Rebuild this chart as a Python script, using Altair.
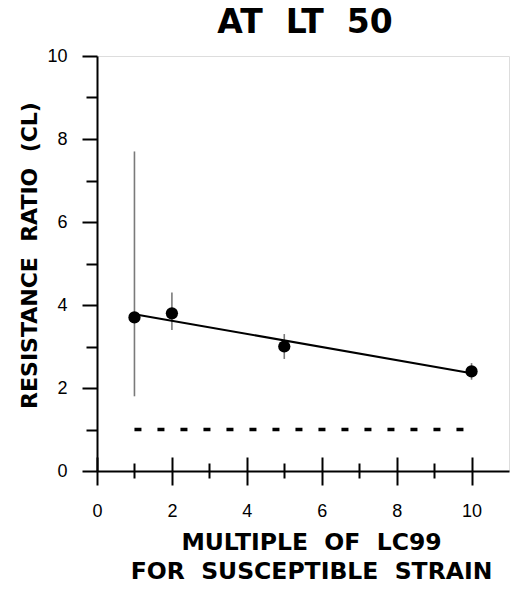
import altair as alt
import pandas as pd

# Resistance ratio at each multiple of the susceptible strain's LC99
multiple = [1, 2, 5, 10]
ratio = [3.7, 3.8, 3.0, 2.4]
ratio_lo = [1.8, 3.4, 2.7, 2.2]
ratio_hi = [7.7, 4.3, 3.3, 2.6]

# Reference level (ratio of 1) drawn as a dashed line
ref_ratio = [1.0, 1.0]
ref_multiple = [1.0, 9.8]

x_ticks = list(range(0, 11))
y_ticks = list(range(0, 11))

# wide word gaps in the headings (non-breaking so SVG keeps them)
GAP = "\u00a0\u00a0"
chart_title = GAP.join(["AT", "LT", "50"])
x_title = [GAP.join(["MULTIPLE", "OF", "LC99"]), GAP.join(["FOR", "SUSCEPTIBLE", "STRAIN"])]
y_title = GAP.join(["RESISTANCE", "RATIO", "(CL)"])

PLOT_W, PLOT_H = 412, 415

df = pd.DataFrame({"multiple": multiple, "ratio": ratio, "lo": ratio_lo, "hi": ratio_hi})
ref = pd.DataFrame({"x": [ref_multiple[0]], "x2": [ref_multiple[1]], "y": [ref_ratio[0]]})

x_scale = alt.Scale(domain=[0, 11], nice=False, zero=False)
y_scale = alt.Scale(domain=[0, 10], nice=False, zero=False)

even_only = "datum.value % 2 === 0 ? datum.label : ''"

x_axis = alt.Axis(
    values=x_ticks,
    labelExpr=even_only,
    tickSize={"condition": {"test": "datum.value % 2 === 0", "value": 14}, "value": 7},
    tickWidth=2, tickColor="black",
    domainColor="black", domainWidth=2,
    labelFont="Liberation Sans", labelFontSize=18, labelColor="black",
    labelPadding=17, labelBaseline="top", labelFlush=False,
    title=x_title,
    titleFont="DejaVu Sans", titleFontWeight="bold", titleFontSize=23.5,
    titleColor="black", titleLineHeight=29,
    titleX=214, titleY=78, titleAlign="center", titleBaseline="alphabetic",
    grid=False,
)

# upward half of the crossing ticks on the bottom axis
x_axis_up = alt.Axis(
    orient="top", offset=-PLOT_H,
    values=x_ticks,
    labels=False, domain=False, title=None, grid=False,
    tickSize={"condition": {"test": "datum.value % 2 === 0", "value": 14}, "value": 8},
    tickWidth=2, tickColor="black",
)

y_axis = alt.Axis(
    values=y_ticks,
    labelExpr=even_only,
    tickSize={"condition": {"test": "datum.value % 2 === 0", "value": 15}, "value": 11},
    tickWidth=2, tickColor="black",
    domainColor="black", domainWidth=2,
    labelFont="Liberation Sans", labelFontSize=18, labelColor="black",
    labelPadding=15, labelFlush=False,
    title=y_title,
    titleFont="DejaVu Sans", titleFontWeight="bold", titleFontSize=22,
    titleColor="black", titleAngle=270,
    titleX=-61, titleY=199, titleAlign="center", titleBaseline="alphabetic",
    grid=False,
)

base = alt.Chart(df)

errorbars = base.mark_rule(color="#7a7a7a", strokeWidth=1.6).encode(
    x=alt.X("multiple:Q", scale=x_scale, axis=x_axis),
    y=alt.Y("lo:Q", scale=y_scale, axis=y_axis),
    y2="hi:Q",
)

fit = base.transform_regression(
    "multiple", "ratio", extent=[1, 10]
).mark_line(color="black", strokeWidth=2).encode(
    x=alt.X("multiple:Q", scale=x_scale, axis=None),
    y=alt.Y("ratio:Q", scale=y_scale, axis=None),
)

points = base.mark_circle(size=150, color="black", opacity=1).encode(
    x=alt.X("multiple:Q", scale=x_scale, axis=None),
    y=alt.Y("ratio:Q", scale=y_scale, axis=None),
)

ref_line = alt.Chart(ref).mark_rule(
    color="black", strokeWidth=3.5, strokeDash=[7, 16], strokeCap="butt"
).encode(
    x=alt.X("x:Q", scale=x_scale, axis=x_axis_up),
    x2="x2:Q",
    y=alt.Y("y:Q", scale=y_scale, axis=None),
)

chart = alt.layer(errorbars, fit, points, ref_line).resolve_axis(
    x="independent", y="independent"
).properties(
    width=PLOT_W,
    height=PLOT_H,
    autosize=alt.AutoSizeParams(type="none"),
    padding={"left": 97, "top": 56, "right": 1, "bottom": 118},
    title=alt.TitleParams(
        chart_title,
        font="DejaVu Sans", fontWeight="bold", fontSize=33, color="black",
        anchor="middle", frame="group", dx=2, offset=7,
    ),
).configure_view(
    stroke="black", strokeWidth=2
).configure(background="white")

chart.save("out.html", embed_options={"renderer": "svg", "actions": False})
